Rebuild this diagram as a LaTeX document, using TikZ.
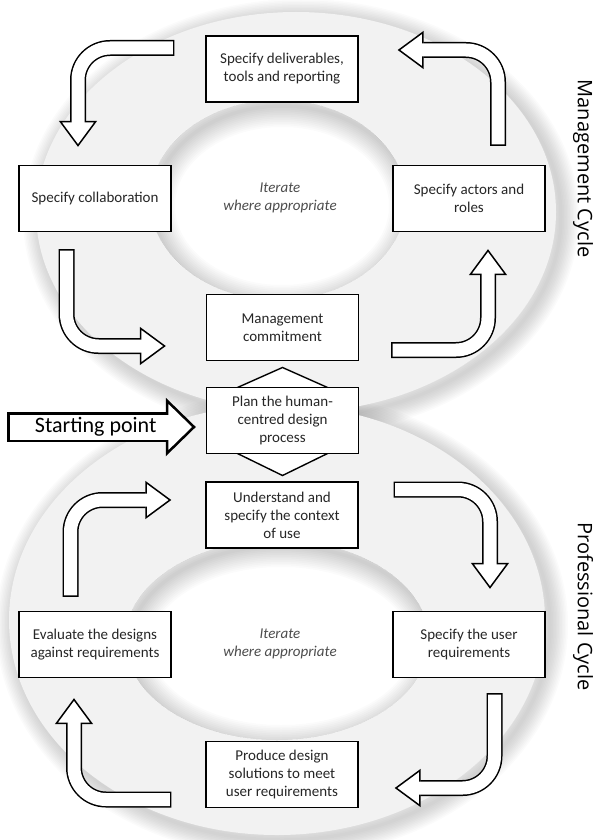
\documentclass[tikz,border=0pt]{standalone}
\usepackage{fontspec}
\setmainfont{Carlito}
\newfontfamily\sidefont{Open Sans}
\usetikzlibrary{arrows.meta,calc}

\definecolor{bandgray}{HTML}{F2F2F2}
\definecolor{boxtext}{HTML}{262626}
\definecolor{itertext}{HTML}{4D4D4D}

\tikzset{
  stepbox/.style={draw=black, fill=white, line width=1.4pt, minimum width=152pt,
    minimum height=66pt, align=center, text=boxtext, inner sep=2pt,
    font=\fontsize{15}{18}\selectfont},
  iternote/.style={align=center, text=itertext, font=\fontsize{15}{18}\selectfont\itshape},
  cyclelabel/.style={rotate=-90, font=\sidefont\fontsize{20}{22}\selectfont},
  hexback/.style={draw=black, fill=white, line width=1.4pt},
  softshade/.style={black, opacity=0.014},
  blockarrow/.style={draw=black, line width=16pt, rounded corners=32pt,
    -{Triangle[length=26pt,width=38pt,fill=white,line width=1.5pt]},
    postaction={draw=white, line width=13pt, -, shorten <=1.5pt, shorten >=24pt}},
  startarrow/.style={draw=black, line width=30pt,
    -{Triangle[length=30pt,width=58pt,fill=white,line width=2.5pt]},
    postaction={draw=white, line width=25pt, -, shorten <=2.5pt, shorten >=27pt}},
}

\begin{document}
\begin{tikzpicture}[x=1pt,y=-1pt]
\useasboundingbox (0,0) rectangle (594,840);
\foreach \i in {1,...,12}{
  \draw [softshade, line width=3*\i pt, shift={(5,5)}] (296,212) ellipse [x radius=260, y radius=200];
  \draw [softshade, line width=3*\i pt, shift={(5,5)}] (277,620) ellipse [x radius=268, y radius=215];
}
\fill [bandgray] (296,212) ellipse [x radius=260, y radius=200];
\fill [bandgray] (277,620) ellipse [x radius=268, y radius=215];
\fill [white] (278,200) ellipse [x radius=128, y radius=100];
\fill [white] (277,640) ellipse [x radius=152, y radius=100];
\begin{scope}
  \clip (278,200) ellipse [x radius=128, y radius=100];
  \foreach \i in {1,...,12}
    \draw [softshade, line width=3.5*\i pt, shift={(4,6)}] (278,200) ellipse [x radius=128, y radius=100];
\end{scope}
\begin{scope}
  \clip (277,640) ellipse [x radius=152, y radius=100];
  \foreach \i in {1,...,12}
    \draw [softshade, line width=3.5*\i pt, shift={(4,6)}] (277,640) ellipse [x radius=152, y radius=100];
\end{scope}

\node [stepbox] (deliv) at (282,69) {Specify deliverables,\\tools and reporting};
\node [stepbox] (collab) at (95,198.5) {Specify collaboration};
\node [stepbox] (actors) at (469,198.5) {Specify actors and\\roles};
\node [stepbox] (mgmt) at (282.5,327.5) {Management\\commitment};
\coordinate (pc) at (282.5,420.5);
\draw [hexback] ($(pc)+(-45,-33)$) -- ($(pc)+(0,-53)$) -- ($(pc)+(45,-33)$) -- ($(pc)+(45,33)$) -- ($(pc)+(0,55)$) -- ($(pc)+(-45,33)$) -- cycle;
\node [stepbox] (plan) at (pc) {Plan the human-\\centred design\\process};
\node [stepbox] (context) at (282,515) {Understand and\\specify the context\\of use};
\node [stepbox] (evalreq) at (95,644.5) {Evaluate the designs\\against requirements};
\node [stepbox] (userreq) at (469,644.5) {Specify the user\\requirements};
\node [stepbox] (produce) at (282,774.5) {Produce design\\solutions to meet\\user requirements};

\node [iternote] (iterTop) at (280,198) {Iterate\\where appropriate};
\node [iternote] (iterBot) at (280,644) {Iterate\\where appropriate};
\node [cyclelabel] (mgmtcycle) at (583,168.5) {Management Cycle};
\node [cyclelabel] (profcycle) at (583,606.5) {Professional Cycle};

\draw [blockarrow] ($(deliv.west)+(-31,-21)$) -| ($(collab.north)+(-17,-18)$);
\draw [blockarrow] ($(collab.south)+(-28.5,17)$) |- ($(mgmt.west)+(-40,18.5)$);
\draw [blockarrow] ($(mgmt.east)+(32,22.5)$) -| ($(actors.south)+(19,17)$);
\draw [blockarrow] ($(actors.north)+(29,-19)$) |- ($(deliv.east)+(39,-19)$);
\draw [blockarrow] ($(context.east)+(35,-25.5)$) -| ($(userreq.north)+(21,-22)$);
\draw [blockarrow] ($(userreq.south)+(25.5,15)$) |- ($(produce.east)+(36,13.5)$);
\draw [blockarrow] ($(produce.west)+(-34,25)$) -| ($(evalreq.south)+(-21,20)$);
\draw [blockarrow] ($(evalreq.north)+(-24.5,-14)$) |- ($(context.west)+(-34,-15)$);

\coordinate (startTail) at (7,427);
\draw [startarrow] (startTail) -- ($(plan.west)+(-10,6.5)$)
  node [pos=.47, font=\fontsize{22}{24}\selectfont, text=black] (startlbl) {Starting point};
\end{tikzpicture}
\end{document}
